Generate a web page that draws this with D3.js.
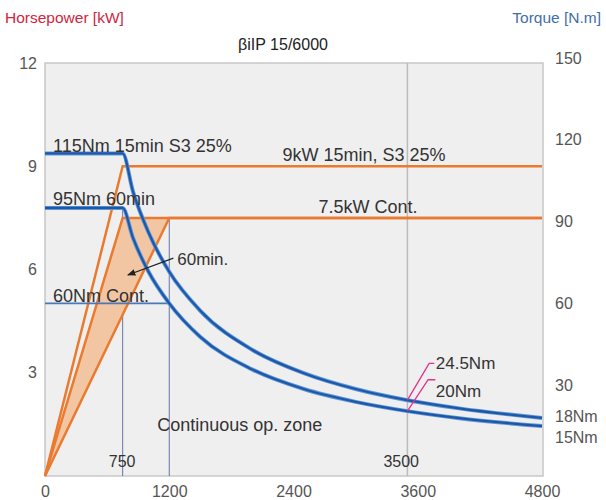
<!DOCTYPE html>
<html>
<head>
<meta charset="utf-8">
<script src="https://cdn.jsdelivr.net/npm/d3@7"></script>
<style>
  body { margin: 0; background: #fff; }
  text { font-family: "Liberation Sans", Arial, sans-serif; }
</style>
</head>
<body>
<div id="chart"></div>
<script>
// tick values
var rpmTicks = [0, 1200, 2400, 3600, 4800];
var kwTicks = [3, 6, 9, 12];
var nmTicks = [30, 60, 90, 120, 150];

// torque curves (rpm, Nm)
var rpm = [0, 750, 850, 1000, 1200, 1500, 2000, 2500, 3000, 3500, 4000, 4800];
var torque15min = [115, 115, 101, 86, 71.6, 57.3, 43, 34.4, 28.6, 24.5, 21.5, 18];
var torque60min = [95, 95, 84, 71.6, 60, 47.7, 35.8, 28.6, 23.9, 20.5, 17.9, 15];
var contRpm = [0, 1200];
var contTorque = [60, 60];

// power curves (rpm, kW)
var power15Rpm = [0, 750, 4800];
var power15kW = [0, 9, 9];
var power60Rpm = [0, 750, 4800];
var power60kW = [0, 7.5, 7.5];
var powerContRpm = [0, 1200, 4800];
var powerContkW = [0, 7.5, 7.5];
var zoneRpm = [0, 750, 1200];
var zonekW = [0, 7.5, 7.5];

var width = 606, height = 500;
var svg = d3.select("#chart").append("svg")
  .attr("width", width).attr("height", height);

var x = d3.scaleLinear().domain([0, 4800]).range([45, 542]);
var yP = d3.scaleLinear().domain([0, 12]).range([476, 63]);
var yT = d3.scaleLinear().domain([0, 150]).range([467, 58]);

// plot background
svg.append("rect")
  .attr("x", 45).attr("y", 63)
  .attr("width", 498).attr("height", 413)
  .attr("fill", "#efefef")
  .attr("stroke", "#c8c8c8")
  .attr("stroke-width", 1.5);

// vertical reference lines
svg.append("line")
  .attr("x1", x(3500)).attr("x2", x(3500))
  .attr("y1", yP(12)).attr("y2", yP(0))
  .attr("stroke", "#bcbcbc").attr("stroke-width", 1.5);
svg.append("line")
  .attr("x1", x(750)).attr("x2", x(750))
  .attr("y1", yT(95)).attr("y2", yP(0))
  .attr("stroke", "#6a72a6").attr("stroke-width", 1);
svg.append("line")
  .attr("x1", x(1200)).attr("x2", x(1200))
  .attr("y1", yP(7.5)).attr("y2", yP(0))
  .attr("stroke", "#6a72a6").attr("stroke-width", 1);

// shaded 60min zone
var zone = zoneRpm.map(function(d, i) { return [d, zonekW[i]]; });
svg.append("path")
  .attr("d", d3.line()
    .x(function(d) { return x(d[0]); })
    .y(function(d) { return yP(d[1]); })(zone) + "Z")
  .attr("fill", "#f3c6a3")
  .attr("stroke", "none");

// power lines
var pLine = d3.line()
  .x(function(d) { return x(d[0]); })
  .y(function(d) { return yP(d[1]); });
[[power15Rpm, power15kW], [power60Rpm, power60kW], [powerContRpm, powerContkW]].forEach(function(s) {
  var pts = s[0].map(function(d, i) { return [d, s[1][i]]; });
  svg.append("path")
    .attr("d", pLine(pts))
    .attr("fill", "none")
    .attr("stroke", "#ea7a2e")
    .attr("stroke-width", 2.5);
});

// torque lines
var tLine = d3.line()
  .x(function(d) { return x(d[0]); })
  .y(function(d) { return yT(d[1]); })
  .curve(d3.curveMonotoneX);

svg.append("path")
  .attr("d", tLine(contRpm.map(function(d, i) { return [d, contTorque[i]]; })))
  .attr("fill", "none")
  .attr("stroke", "#4a78b8")
  .attr("stroke-width", 1.6);

[torque15min, torque60min].forEach(function(t) {
  var pts = rpm.map(function(d, i) { return [d, t[i]]; });
  svg.append("path")
    .attr("d", tLine(pts))
    .attr("fill", "none")
    .attr("stroke", "#5d97d8")
    .attr("stroke-width", 4);
  svg.append("path")
    .attr("d", tLine(pts))
    .attr("fill", "none")
    .attr("stroke", "#1f57a8")
    .attr("stroke-width", 2.2);
});

// pink leaders for 24.5Nm / 20Nm
var leaders = [
  [[3500, 24.5], [3710, 38], [3760, 38]],
  [[3500, 20.5], [3700, 32], [3770, 32]]
];
var lLine = d3.line()
  .x(function(d) { return x(d[0]); })
  .y(function(d) { return yT(d[1]); });
leaders.forEach(function(l) {
  svg.append("path")
    .attr("d", lLine(l))
    .attr("fill", "none")
    .attr("stroke", "#e0338c")
    .attr("stroke-width", 1.3);
});

// arrow for 60min.
svg.append("defs").append("marker")
  .attr("id", "arr")
  .attr("viewBox", "0 0 10 10")
  .attr("refX", 9).attr("refY", 5)
  .attr("markerWidth", 7).attr("markerHeight", 7)
  .attr("orient", "auto")
  .append("path").attr("d", "M0,1 L10,5 L0,9 Z").attr("fill", "#222");
svg.append("line")
  .attr("x1", x(1240)).attr("y1", yP(6.33))
  .attr("x2", x(800)).attr("y2", yP(5.84))
  .attr("stroke", "#222").attr("stroke-width", 1.2)
  .attr("marker-end", "url(#arr)");

// annotations (rpm, kW)
var notes = [
  {t: "115Nm 15min S3 25%", r: 77, p: 9.41, a: "start", s: 18},
  {t: "95Nm 60min", r: 77, p: 7.87, a: "start", s: 18},
  {t: "60Nm Cont.", r: 77, p: 5.06, a: "start", s: 18},
  {t: "9kW 15min, S3 25%", r: 2294, p: 9.15, a: "start", s: 18},
  {t: "7.5kW Cont.", r: 2642, p: 7.64, a: "start", s: 18},
  {t: "60min.", r: 1277, p: 6.13, a: "start", s: 17},
  {t: "24.5Nm", r: 3774, p: 3.11, a: "start", s: 17},
  {t: "20Nm", r: 3774, p: 2.30, a: "start", s: 17},
  {t: "Continuous op. zone", r: 1084, p: 1.31, a: "start", s: 18},
  {t: "750", r: 745, p: 0.26, a: "middle", s: 16},
  {t: "3500", r: 3440, p: 0.26, a: "middle", s: 16}
];
svg.selectAll(".note").data(notes).enter().append("text")
  .attr("class", "note")
  .attr("x", function(d) { return x(d.r); })
  .attr("y", function(d) { return yP(d.p); })
  .attr("text-anchor", function(d) { return d.a; })
  .attr("font-size", function(d) { return d.s; })
  .attr("fill", "#333")
  .text(function(d) { return d.t; });

// axes
function styleAxis(g) {
  g.select(".domain").remove();
  g.selectAll("line").remove();
  g.selectAll("text").attr("font-size", 16).attr("fill", "#555")
    .attr("font-family", "Liberation Sans, Arial, sans-serif");
}
svg.append("g")
  .attr("transform", "translate(0,476)")
  .call(d3.axisBottom(x).tickValues(rpmTicks).tickFormat(d3.format("d")).tickSize(0).tickPadding(10))
  .call(styleAxis);
svg.append("g")
  .attr("transform", "translate(45,0)")
  .call(d3.axisLeft(yP).tickValues(kwTicks).tickFormat(d3.format("d")).tickSize(0).tickPadding(8))
  .call(styleAxis);
svg.append("g")
  .attr("transform", "translate(543,0)")
  .call(d3.axisRight(yT).tickValues(nmTicks).tickFormat(d3.format("d")).tickSize(0).tickPadding(12))
  .call(styleAxis);

// end labels on the right
var endLabels = [{t: "18Nm", v: 18.5}, {t: "15Nm", v: 10.5}];
svg.selectAll(".end").data(endLabels).enter().append("text")
  .attr("x", 555)
  .attr("y", function(d) { return yT(d.v); })
  .attr("dy", "0.32em")
  .attr("font-size", 16).attr("fill", "#555")
  .text(function(d) { return d.t; });

// headers
svg.append("text").attr("x", 5).attr("y", 23)
  .attr("font-size", 15.5).attr("fill", "#d0263e")
  .text("Horsepower [kW]");
svg.append("text").attr("x", 601).attr("y", 23)
  .attr("text-anchor", "end")
  .attr("font-size", 15.5).attr("fill", "#3f6fa8")
  .text("Torque [N.m]");
svg.append("text").attr("x", 283).attr("y", 50)
  .attr("text-anchor", "middle")
  .attr("font-size", 16).attr("fill", "#222")
  .text("βiIP 15/6000");
</script>
</body>
</html>
